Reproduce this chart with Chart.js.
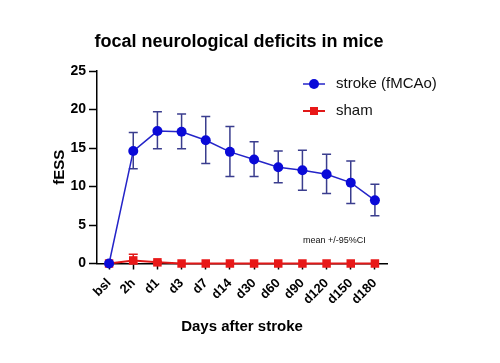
<!DOCTYPE html>
<html>
<head>
<meta charset="utf-8">
<script src="https://cdn.jsdelivr.net/npm/chart.js@4.4.1/dist/chart.umd.min.js"></script>
<style>
  html, body { margin: 0; padding: 0; background: #ffffff; }
  #wrap { width: 500px; height: 363px; position: relative; }
</style>
</head>
<body>
<div id="wrap"><canvas id="chart"></canvas></div>
<script>
// ---- data ----
const timepoints = ["bsl", "2h", "d1", "d3", "d7", "d14", "d30", "d60", "d90", "d120", "d150", "d180"];

const strokeMean = [0, 14.6, 17.2, 17.1, 16.0, 14.5, 13.5, 12.5, 12.1, 11.6, 10.5, 8.2];
const strokeLow  = [0, 12.3, 14.9, 14.9, 13.0, 11.3, 11.3, 10.5, 9.5, 9.1, 7.8, 6.2];
const strokeHigh = [0, 17.0, 19.7, 19.4, 19.1, 17.8, 15.8, 14.6, 14.7, 14.2, 13.3, 10.3];

const shamMean = [0, 0.4, 0.15, 0, 0, 0, 0, 0, 0, 0, 0, 0];
const shamLow  = [0, 0, 0, 0, 0, 0, 0, 0, 0, 0, 0, 0];
const shamHigh = [0, 1.2, 0.3, 0, 0, 0, 0, 0, 0, 0, 0, 0];

const yTicks = [0, 5, 10, 15, 20, 25];

const FONT = "'Liberation Sans', Arial, sans-serif";

// error bars (95% CI) drawn under the markers
const errorBars = {
  id: "errorBars",
  beforeDatasetsDraw(chart) {
    const ctx = chart.ctx;
    const x = chart.scales.x, y = chart.scales.y;
    const sets = [
      { low: shamLow, high: shamHigh, color: "#e01818" },
      { low: strokeLow, high: strokeHigh, color: "#3a3d8e" }
    ];
    ctx.save();
    sets.forEach(s => {
      ctx.strokeStyle = s.color;
      ctx.lineWidth = 1.5;
      s.low.forEach((lo, i) => {
        const hi = s.high[i];
        if (hi - lo < 0.05) return;
        const px = x.getPixelForValue(i);
        const top = y.getPixelForValue(hi);
        const bot = y.getPixelForValue(lo);
        ctx.beginPath();
        ctx.moveTo(px, top); ctx.lineTo(px, bot);
        ctx.moveTo(px - 4.5, top); ctx.lineTo(px + 4.5, top);
        ctx.moveTo(px - 4.5, bot); ctx.lineTo(px + 4.5, bot);
        ctx.stroke();
      });
    });
    ctx.restore();
  }
};

// title, legend and note
const decorations = {
  id: "decorations",
  afterDraw(chart) {
    const ctx = chart.ctx;
    ctx.save();
    ctx.fillStyle = "#000";
    ctx.font = "bold 18px " + FONT;
    ctx.textAlign = "center";
    ctx.textBaseline = "middle";
    ctx.fillText("focal neurological deficits in mice", 239, 42);

    // legend
    const items = [
      { label: chart.data.datasets[0].label, ds: chart.data.datasets[0], y: 84 },
      { label: chart.data.datasets[1].label, ds: chart.data.datasets[1], y: 111 }
    ];
    items.forEach(it => {
      ctx.strokeStyle = it.ds.borderColor;
      ctx.lineWidth = it.ds.borderWidth;
      ctx.beginPath();
      ctx.moveTo(303, it.y); ctx.lineTo(325, it.y);
      ctx.stroke();
      ctx.fillStyle = it.ds.pointBackgroundColor;
      if (it.ds.pointStyle === "rect") {
        ctx.fillRect(310, it.y - 4, 8, 8);
      } else {
        ctx.beginPath();
        ctx.arc(314, it.y, 5, 0, Math.PI * 2);
        ctx.fill();
      }
      ctx.fillStyle = "#111";
      ctx.font = "15px " + FONT;
      ctx.textAlign = "left";
      ctx.fillText(it.label, 336, it.y);
    });

    ctx.font = "9px " + FONT;
    ctx.fillStyle = "#111";
    ctx.textAlign = "left";
    ctx.fillText("mean +/-95%CI", 303, 241);
    ctx.restore();
  }
};

new Chart(document.getElementById("chart"), {
  type: "line",
  data: {
    labels: timepoints,
    datasets: [
      {
        label: "stroke (fMCAo)",
        data: strokeMean,
        borderColor: "#2424c8",
        borderWidth: 1.5,
        pointStyle: "circle",
        pointRadius: 5,
        pointBackgroundColor: "#0a0ad8",
        pointBorderColor: "#0a0ad8",
        pointBorderWidth: 0,
        tension: 0,
        clip: false
      },
      {
        label: "sham",
        data: shamMean,
        borderColor: "#e01818",
        borderWidth: 2,
        pointStyle: "rect",
        pointRadius: 6,
        pointBackgroundColor: "#e81818",
        pointBorderColor: "#e81818",
        pointBorderWidth: 0,
        tension: 0,
        clip: false
      }
    ]
  },
  options: {
    responsive: true,
    maintainAspectRatio: false,
    animation: false,
    events: [],
    layout: { padding: { top: 71, right: 113, left: 0, bottom: 0 } },
    plugins: {
      legend: { display: false },
      title: { display: false },
      tooltip: { enabled: false }
    },
    scales: {
      x: {
        offset: true,
        grid: { drawOnChartArea: false, offset: false, tickLength: 6, tickColor: "#000", tickWidth: 1.5 },
        border: { color: "#000", width: 1.5 },
        ticks: {
          color: "#000",
          font: { family: FONT, size: 13, weight: "bold" },
          minRotation: 45, maxRotation: 45, autoSkip: false, padding: 6
        },
        title: {
          display: true,
          text: "Days after stroke",
          color: "#000",
          font: { family: FONT, size: 15, weight: "bold" },
          padding: { top: 0, bottom: 27 }
        },
        afterFit(scale) { scale.height = 99.5; }
      },
      y: {
        min: 0,
        max: 25,
        afterBuildTicks(scale) { scale.ticks = yTicks.map(v => ({ value: v })); },
        grid: { drawOnChartArea: false, tickLength: 8, tickColor: "#000", tickWidth: 1.5 },
        border: { color: "#000", width: 1.5 },
        ticks: {
          color: "#000",
          font: { family: FONT, size: 14, weight: "bold" },
          padding: 3
        },
        title: {
          display: true,
          text: "fESS",
          color: "#000",
          font: { family: FONT, size: 15, weight: "bold" },
          padding: { top: 51, bottom: 0 }
        },
        afterFit(scale) { scale.width = 97; }
      }
    }
  },
  plugins: [errorBars, decorations]
});
</script>
</body>
</html>
